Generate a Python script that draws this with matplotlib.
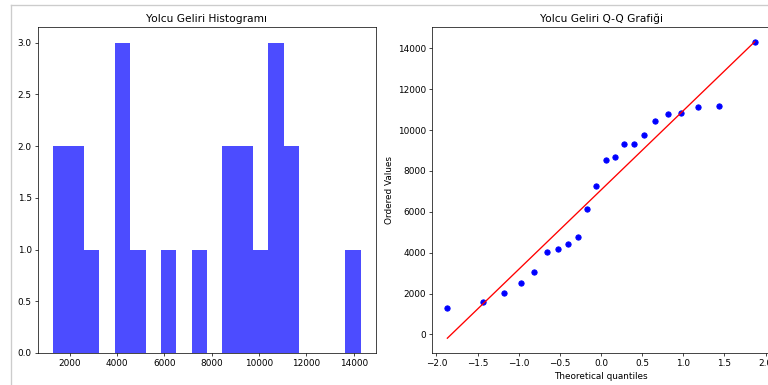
import numpy as np
import matplotlib
matplotlib.use("Agg")
from matplotlib import pyplot as plt
from matplotlib.lines import Line2D
from statistics import NormalDist

# passenger incomes (ordered values)
gelir = [1305, 1566, 2023, 2496, 3067, 4046, 4177, 4422, 4781, 6135, 7277,
         8533, 8664, 9300, 9333, 9773, 10442, 10785, 10850, 11111, 11160, 14293]

hist_title = "Yolcu Geliri Histogramı"
qq_title = "Yolcu Geliri Q-Q Grafiği"

# theoretical quantiles (Filliben order statistic medians, like scipy probplot)
n = len(gelir)
osm_u = [(i - 0.3175) / (n + 0.365) for i in range(1, n + 1)]
osm_u[-1] = 0.5 ** (1.0 / n)
osm_u[0] = 1 - osm_u[-1]
osm = np.array([NormalDist().inv_cdf(p) for p in osm_u])
osr = np.sort(np.array(gelir))
slope, intercept = np.polyfit(osm, osr, 1)

fig = plt.figure(figsize=(12, 385 / 64), dpi=64)

ax1 = fig.add_axes([38 / 768, 1 - 353 / 385, 338 / 768, 326 / 385])
ax1.hist(gelir, bins=20, color="blue", alpha=0.7)
ax1.set_title(hist_title)

ax2 = fig.add_axes([432 / 768, 1 - 353 / 385, 338 / 768, 326 / 385])
ax2.plot(osm, osr, "bo")
ax2.plot(osm, slope * osm + intercept, "r-")
ax2.set_title(qq_title)
ax2.set_xlabel("Theoretical quantiles")
ax2.set_ylabel("Ordered Values")

# grey frame of the notebook output cell
fig.add_artist(Line2D([11 / 768, 1], [1 - 5 / 385, 1 - 5 / 385], color="#cccccc", lw=1.5))
fig.add_artist(Line2D([11 / 768, 11 / 768], [0, 1 - 5 / 385], color="#cccccc", lw=1.5))

fig.savefig("out.png", dpi=64)
